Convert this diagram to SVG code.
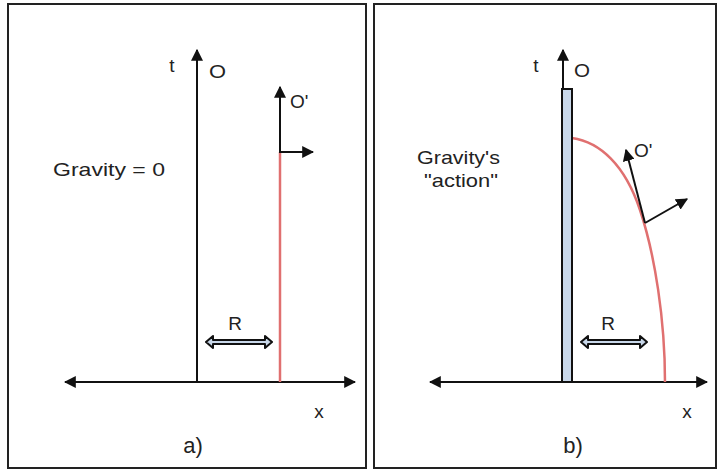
<svg xmlns="http://www.w3.org/2000/svg" width="717" height="470" viewBox="0 0 717 470">
<defs>
<style>
.frame{fill:#fff;stroke:#222;stroke-width:2}
.ax{stroke:#111;stroke-width:2;fill:none}
.red{stroke:#e07070;stroke-width:2.5;fill:none}
.lbl{font-family:"Liberation Sans",Arial,sans-serif;font-size:19px;fill:#222}
.big{font-size:22px}
.dbl{fill:#c9d8ea;stroke:#111;stroke-width:2;stroke-linejoin:round}
</style>
<marker id="ah" viewBox="0 0 10 10" refX="9" refY="5" markerWidth="6" markerHeight="6" markerUnits="strokeWidth" orient="auto-start-reverse">
<path d="M0,0 L10,5 L0,10 Z" fill="#111"/>
</marker>
</defs>
<rect width="717" height="470" fill="#fff"/>
<g id="panel-a">
<rect class="frame" x="8" y="4" width="358" height="464"/>
<text class="lbl big" x="193" y="453" text-anchor="middle">a)</text>
</g>
<g id="panel-b">
<rect class="frame" x="374" y="4" width="342" height="464"/>
<text class="lbl big" x="573" y="453" text-anchor="middle">b)</text>
</g>
<g id="connectors">
<line class="ax" x1="65" y1="382" x2="355" y2="382" marker-start="url(#ah)" marker-end="url(#ah)"/>
<line class="ax" x1="197" y1="382" x2="197" y2="50" marker-end="url(#ah)"/>
<line class="red" x1="280" y1="382" x2="280" y2="152"/>
<line class="ax" x1="280" y1="152" x2="280" y2="87" marker-end="url(#ah)"/>
<line class="ax" x1="279" y1="152" x2="313" y2="152" marker-end="url(#ah)"/>
<line class="ax" x1="430" y1="382" x2="707" y2="382" marker-start="url(#ah)" marker-end="url(#ah)"/>
<line class="ax" x1="563" y1="90" x2="563" y2="50" marker-end="url(#ah)"/>
<path class="red" d="M572,138 C600,142 625,165 640,210 C655,255 665,320 665,382"/>
<line class="ax" x1="645" y1="223" x2="626" y2="150" marker-end="url(#ah)"/>
<line class="ax" x1="645" y1="223" x2="687" y2="199" marker-end="url(#ah)"/>
</g>
<g id="axis-a">
<text class="lbl" x="172" y="72" text-anchor="middle">t</text>
<text class="lbl" x="209" y="78" textLength="17" lengthAdjust="spacingAndGlyphs">O</text>
<text class="lbl" x="290" y="108">O'</text>
<text class="lbl" x="319" y="418" text-anchor="middle">x</text>
<text class="lbl" x="53" y="176" font-size="20" textLength="112" lengthAdjust="spacingAndGlyphs">Gravity = 0</text>
</g>
<g id="R-a">
<path class="dbl" d="M206,342 L213,336 L213,340 L265,340 L265,336 L272,342 L265,348 L265,344 L213,344 L213,348 Z"/>
<text class="lbl" x="235" y="330" text-anchor="middle">R</text>
</g>
<g id="bar-b">
<rect x="562" y="89" width="10" height="293" fill="#c9d8ea" stroke="#111" stroke-width="2"/>
</g>
<g id="axis-b">
<text class="lbl" x="536" y="72" text-anchor="middle">t</text>
<text class="lbl" x="574" y="77" textLength="16" lengthAdjust="spacingAndGlyphs">O</text>
<text class="lbl" x="634" y="157">O'</text>
<text class="lbl" x="687" y="418" text-anchor="middle">x</text>
<text class="lbl" x="417" y="164" font-size="20" textLength="83" lengthAdjust="spacingAndGlyphs">Gravity's</text>
<text class="lbl" x="424" y="187" font-size="20" textLength="74" lengthAdjust="spacingAndGlyphs">"action"</text>
</g>
<g id="R-b">
<path class="dbl" d="M581,342 L588,336 L588,340 L640,340 L640,336 L647,342 L640,348 L640,344 L588,344 L588,348 Z"/>
<text class="lbl" x="608" y="330" text-anchor="middle">R</text>
</g>
</svg>
